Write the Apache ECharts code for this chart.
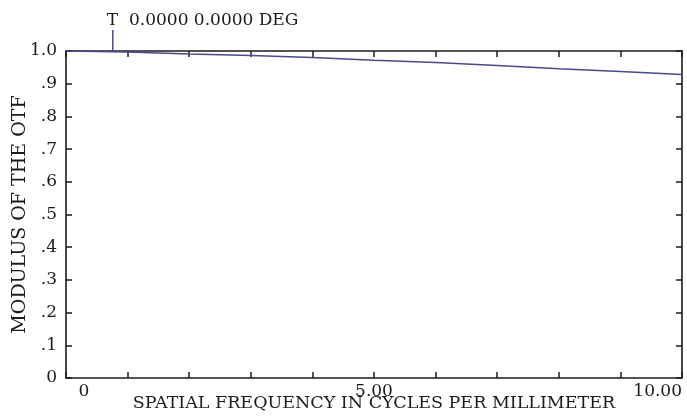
<!DOCTYPE html>
<html>
<head>
<meta charset="utf-8">
<script src="https://cdn.jsdelivr.net/npm/echarts@6/dist/echarts.min.js"></script>
<style>
  html, body { margin: 0; padding: 0; background: #fff; }
  #chart { width: 687px; height: 419px; }
</style>
</head>
<body>
<div id="chart"></div>
<script>
// spatial frequency (cycles/mm) and tangential MTF
const freq = [0, 1, 2, 3, 4, 5, 6, 7, 8, 9, 10];
const mtfT = [1.0, 0.997, 0.991, 0.986, 0.98, 0.972, 0.965, 0.956, 0.946, 0.937, 0.928];
const xLabels = { 0: '0', 5: '5.00', 10: '10.00' };
// field marker: tick above the curve with its caption
const markerX = 0.76;
const markerTop = 1.064;
const markerText = 'T  0.0000 0.0000 DEG';

const FONT = 'DejaVu Serif';
const INK = '#1b1b1b';
const LINE = '#4a4a8c';

const chart = echarts.init(document.getElementById('chart'), null, { renderer: 'canvas' });

const frameAxis = {
  type: 'value',
  min: 0,
  nameMoveOverlap: false,
  axisLine: { show: true, onZero: false, lineStyle: { color: INK, width: 1.6 } },
  axisTick: { show: true, inside: true, length: 6, lineStyle: { color: INK, width: 1.5 } },
  splitLine: { show: false }
};

const option = {
  animation: false,
  backgroundColor: '#fff',
  grid: { left: 66, right: 5, top: 51, bottom: 41, containLabel: false, outerBoundsMode: 'none' },
  xAxis: [
    Object.assign({}, frameAxis, {
      max: 10,
      interval: 1,
      position: 'bottom',
      name: 'SPATIAL FREQUENCY IN CYCLES PER MILLIMETER',
      nameLocation: 'middle',
      nameGap: 16,
      nameTextStyle: { color: INK, fontFamily: FONT, fontSize: 17.5, verticalAlign: 'top' },
      axisLabel: {
        color: INK,
        fontFamily: FONT,
        fontSize: 17,
        margin: 5,
        alignMaxLabel: 'right',
        formatter: (v) => (v === 0 ? '{z|0}' : (xLabels[v] || '')),
        rich: { z: { fontFamily: FONT, fontSize: 17, color: INK, padding: [0, 0, 0, 36] } }
      }
    }),
    Object.assign({}, frameAxis, {
      max: 10,
      interval: 1,
      position: 'top',
      axisLabel: { show: false }
    })
  ],
  yAxis: [
    Object.assign({}, frameAxis, {
      max: 1,
      interval: 0.1,
      position: 'left',
      name: 'MODULUS OF THE OTF',
      nameLocation: 'middle',
      nameGap: 36,
      nameTextStyle: { color: INK, fontFamily: FONT, fontSize: 19 },
      axisLabel: {
        color: INK,
        fontFamily: FONT,
        fontSize: 17,
        margin: 9,
        formatter: (v) => {
          if (v === 0) return '0';
          if (Math.abs(v - 1) < 1e-9) return '1.0';
          return '.' + Math.round(v * 10);
        }
      }
    }),
    Object.assign({}, frameAxis, {
      max: 1,
      interval: 0.1,
      position: 'right',
      axisLabel: { show: false }
    })
  ],
  series: [
    {
      type: 'line',
      data: freq.map((f, i) => [f, mtfT[i]]),
      showSymbol: false,
      lineStyle: { color: LINE, width: 1.5 }
    }
  ]
};

chart.setOption(option);

// marker placed through the chart's own scales
const p0 = chart.convertToPixel({ gridIndex: 0 }, [markerX, 1.0]);
const p1 = chart.convertToPixel({ gridIndex: 0 }, [markerX, markerTop]);
chart.setOption({
  graphic: [
    {
      type: 'line',
      shape: { x1: p0[0], y1: p0[1], x2: p1[0], y2: p1[1] },
      style: { stroke: LINE, lineWidth: 1.5 },
      z: 10
    },
    {
      type: 'text',
      x: p1[0] - 6,
      y: p1[1] - 9,
      style: {
        text: markerText,
        fill: INK,
        font: '17px "DejaVu Serif"',
        textAlign: 'left',
        textVerticalAlign: 'middle'
      },
      z: 10
    }
  ]
});
</script>
</body>
</html>
